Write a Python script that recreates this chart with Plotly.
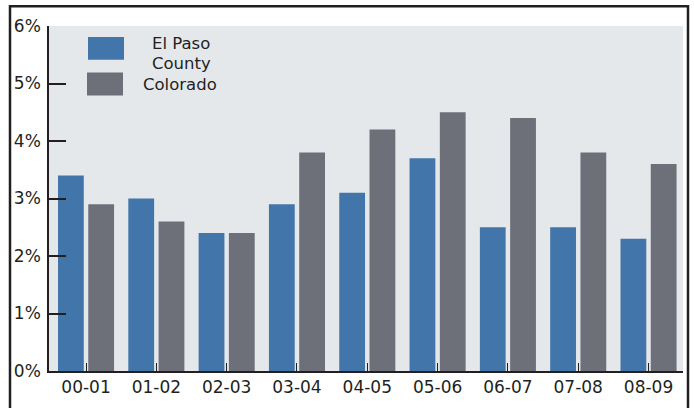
import plotly.graph_objects as go

categories = ["00-01", "01-02", "02-03", "03-04", "04-05", "05-06", "06-07", "07-08", "08-09"]
el_paso = [3.4, 3.0, 2.4, 2.9, 3.1, 3.7, 2.5, 2.5, 2.3]
colorado = [2.9, 2.6, 2.4, 3.8, 4.2, 4.5, 4.4, 3.8, 3.6]
series_names = ["El Paso County", "Colorado"]
y_tickvals = [0, 1, 2, 3, 4, 5, 6]
y_ticktext = ["0%", "1%", "2%", "3%", "4%", "5%", "6%"]

BLUE = "#4276aa"
GRAY = "#6d7078"
BG = "#e5e8eb"
DARK = "#231f20"
FONT = "DejaVu Sans"

W, H = 694, 408
ml, mr, mt, mb = 49, 11, 26, 34
pw, ph = W - ml - mr, H - mt - mb

def px_x(x):
    return (x - ml) / pw

def px_y(y):
    return (H - mb - y) / ph

fig = go.Figure()
fig.add_trace(go.Bar(x=list(range(len(categories))), y=el_paso, name=series_names[0],
                     marker=dict(color=BLUE, line=dict(width=0)), width=0.367, offset=-0.399))
fig.add_trace(go.Bar(x=list(range(len(categories))), y=colorado, name=series_names[1],
                     marker=dict(color=GRAY, line=dict(width=0)), width=0.367, offset=0.0315))

shapes = [
    # outer frame
    dict(type="rect", xref="paper", yref="paper",
         x0=px_x(10), x1=px_x(688), y0=px_y(420), y1=px_y(6),
         line=dict(color=DARK, width=2.5), fillcolor="rgba(0,0,0,0)", layer="above"),
    # legend swatches
    dict(type="rect", xref="paper", yref="paper", x0=px_x(88), x1=px_x(124), y0=px_y(60), y1=px_y(37),
         fillcolor=BLUE, line=dict(width=0)),
    dict(type="rect", xref="paper", yref="paper", x0=px_x(87), x1=px_x(123), y0=px_y(96), y1=px_y(73),
         fillcolor=GRAY, line=dict(width=0)),
]

name_lines = series_names[0].split(" ", 2)
legend_font = dict(family=FONT, size=16.5, color=DARK)
annotations = [
    dict(text=" ".join(name_lines[:2]), xref="paper", yref="paper", x=px_x(181), y=px_y(44),
         xanchor="center", yanchor="middle", showarrow=False, font=legend_font, borderpad=0),
    dict(text=name_lines[2] if len(name_lines) > 2 else "", xref="paper", yref="paper", x=px_x(181), y=px_y(64),
         xanchor="center", yanchor="middle", showarrow=False, font=legend_font, borderpad=0),
    dict(text=series_names[1], xref="paper", yref="paper", x=px_x(142), y=px_y(85),
         xanchor="left", yanchor="middle", showarrow=False, font=legend_font, borderpad=0),
]

fig.update_layout(
    width=W, height=H,
    margin=dict(l=ml, r=mr, t=mt, b=mb, pad=0),
    paper_bgcolor="white", plot_bgcolor=BG,
    barmode="overlay", showlegend=False,
    shapes=shapes, annotations=annotations,
    font=dict(family=FONT, size=16, color=DARK),
)
fig.update_xaxes(
    range=[-0.527, 8.49], tickmode="array", tickvals=list(range(len(categories))), ticktext=categories,
    showgrid=False, zeroline=False, showline=True, linecolor=DARK, linewidth=1.5,
    ticks="inside", ticklen=8, tickwidth=1, tickcolor=DARK,
    tickfont=dict(family=FONT, size=17, color=DARK),
)
fig.update_yaxes(
    range=[0, 6], tickmode="array", tickvals=y_tickvals, ticktext=y_ticktext,
    showgrid=False, zeroline=False, showline=True, linecolor=DARK, linewidth=1.5,
    ticks="inside", ticklen=17, tickwidth=1.5, tickcolor=DARK, ticklabelstandoff=3,
    tickfont=dict(family=FONT, size=17, color=DARK),
)

fig.write_html("out.html", config={"displayModeBar": False},
               post_script="document.body.style.margin='0';document.body.style.overflow='hidden';")
